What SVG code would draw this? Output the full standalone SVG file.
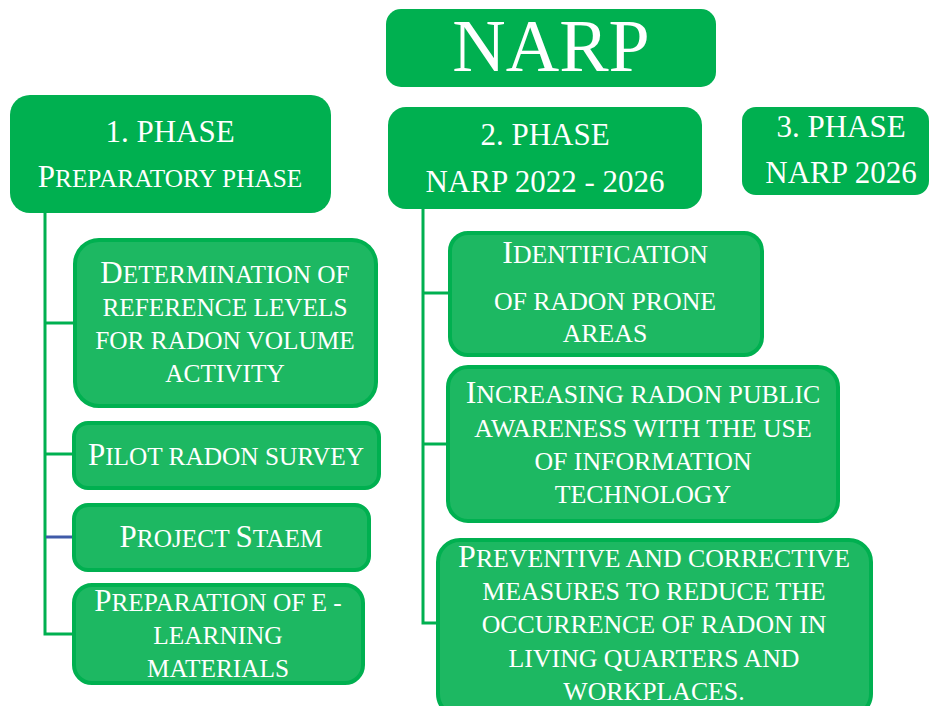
<svg xmlns="http://www.w3.org/2000/svg" width="930" height="706" viewBox="0 0 930 706">
<style>
.hdr{fill:#00B050}
.sub{fill:#1DB862;stroke:#00B050;stroke-width:4}
.tx{font-family:'Liberation Serif','Times New Roman','DejaVu Serif',serif;fill:#FFFFFF;text-anchor:middle}
.t31{font-size:31px}
.t25{font-size:25.3px}
.t26{font-size:25.8px}
.b{font-size:31px}
.b32{font-size:32px}
.ln{fill:none;stroke:#00B050;stroke-width:3}
.blue{fill:none;stroke:#3F5AA8;stroke-width:3}
</style>
<rect width="930" height="706" fill="#FFFFFF"/>
<g id="connectors">
<path class="ln" d="M45 213 V634 H76"/>
<path class="ln" d="M45 323 H76"/>
<path class="ln" d="M45 454 H76"/>
<path class="blue" d="M46 537 H76"/>
<path class="ln" d="M423 209 V623 H438"/>
<path class="ln" d="M423 293 H450"/>
<path class="ln" d="M423 444 H448"/>
</g>
<g class="tx" font-family="Liberation Serif, Times New Roman, DejaVu Serif, serif">
<g id="narp">
<rect class="hdr" x="386" y="9" width="330" height="78" rx="15"/>
<text class="tx" x="551" y="71" font-size="74">NARP</text>
</g>
<g id="phase1">
<rect class="hdr" x="10" y="95" width="321" height="118" rx="20"/>
<text class="tx t31" x="170" y="142">1. PHASE</text>
<text class="tx t25" x="170" y="187"><tspan class="b">P</tspan>REPARATORY PHASE</text>
</g>
<g id="phase2">
<rect class="hdr" x="388" y="107" width="314" height="102" rx="18"/>
<text class="tx t31" x="545" y="145">2. PHASE</text>
<text class="tx t31" x="545" y="192">NARP 2022 - 2026</text>
</g>
<g id="phase3">
<rect class="hdr" x="742" y="107" width="187" height="88" rx="14"/>
<text class="tx t31" x="841" y="137">3. PHASE</text>
<text class="tx t31" x="841" y="183">NARP 2026</text>
</g>
<g id="determination">
<rect class="sub" x="75" y="240" width="301" height="166" rx="24"/>
<text class="tx t25" x="225" y="283"><tspan class="b">D</tspan>ETERMINATION OF</text>
<text class="tx t25" x="225" y="316">REFERENCE LEVELS</text>
<text class="tx t25" x="225" y="349">FOR RADON VOLUME</text>
<text class="tx t25" x="225" y="382">ACTIVITY</text>
</g>
<g id="pilot">
<rect class="sub" x="74" y="423" width="305" height="65" rx="14"/>
<text class="tx t25" x="226" y="465"><tspan class="b">P</tspan>ILOT RADON SURVEY</text>
</g>
<g id="staem">
<rect class="sub" x="74" y="505" width="295" height="65" rx="14"/>
<text class="tx t25" x="221" y="547"><tspan class="b">P</tspan>ROJECT <tspan class="b">S</tspan>TAEM</text>
</g>
<g id="elearning">
<rect class="sub" x="74" y="585" width="289" height="98" rx="18"/>
<text class="tx t25" x="218" y="611"><tspan class="b">P</tspan>REPARATION OF E -</text>
<text class="tx t25" x="218" y="644">LEARNING</text>
<text class="tx t25" x="218" y="677">MATERIALS</text>
</g>
<g id="identification">
<rect class="sub" x="450" y="233" width="312" height="122" rx="18"/>
<text class="tx t26" x="605" y="263"><tspan class="b32">I</tspan>DENTIFICATION</text>
<text class="tx t26" x="605" y="310">OF RADON PRONE</text>
<text class="tx t26" x="605" y="342">AREAS</text>
</g>
<g id="awareness">
<rect class="sub" x="448" y="367" width="390" height="154" rx="20"/>
<text class="tx t26" x="643" y="403"><tspan class="b32">I</tspan>NCREASING RADON PUBLIC</text>
<text class="tx t26" x="643" y="437">AWARENESS WITH THE USE</text>
<text class="tx t26" x="643" y="470">OF INFORMATION</text>
<text class="tx t26" x="643" y="503">TECHNOLOGY</text>
</g>
<g id="preventive">
<rect class="sub" x="438" y="540" width="433" height="176" rx="22"/>
<text class="tx t26" x="654" y="567"><tspan class="b32">P</tspan>REVENTIVE AND CORRECTIVE</text>
<text class="tx t26" x="654" y="600">MEASURES TO REDUCE THE</text>
<text class="tx t26" x="654" y="633">OCCURRENCE OF RADON IN</text>
<text class="tx t26" x="654" y="667">LIVING QUARTERS AND</text>
<text class="tx t26" x="654" y="700">WORKPLACES.</text>
</g>
</g>
</svg>
